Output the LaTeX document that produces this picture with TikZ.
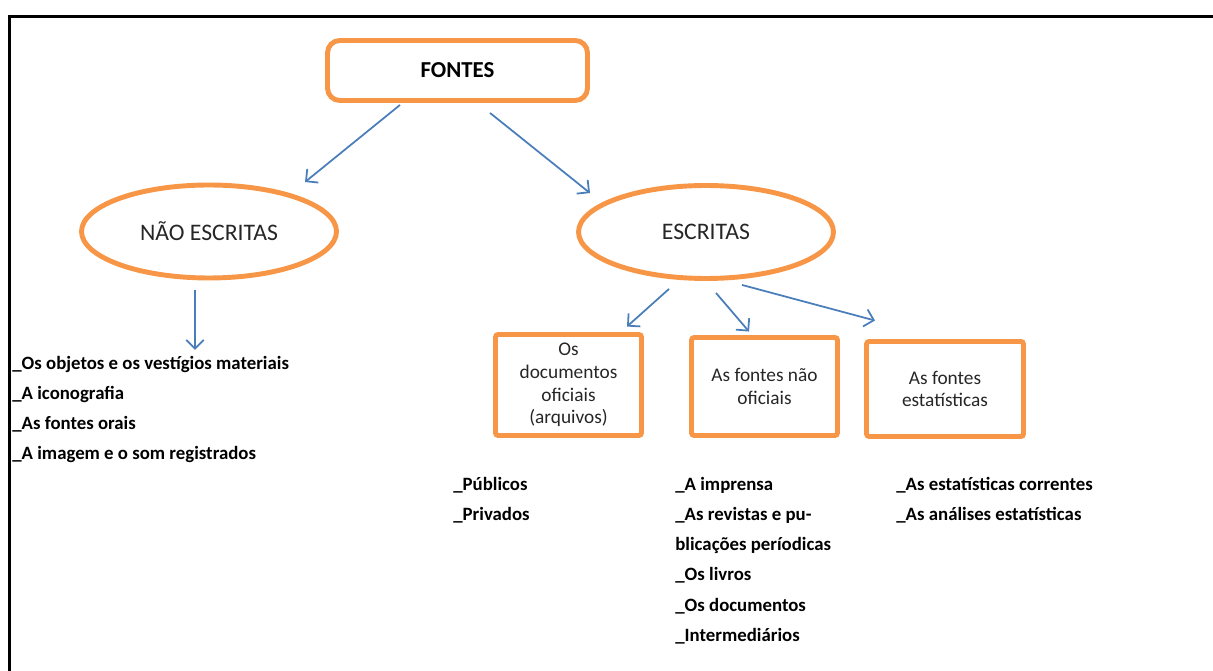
\documentclass[tikz,border=0pt]{standalone}
\usepackage{fontspec}
\setmainfont{Carlito}
\usetikzlibrary{shapes.geometric,arrows.meta,calc}
\definecolor{boxorange}{HTML}{F79646}
\definecolor{arrowblue}{HTML}{4A7EBB}
\tikzset{
  topbox/.style={draw=boxorange,line width=2.8pt,rounded corners=7pt,
    minimum width=5.2cm,minimum height=1.2cm,font=\fontsize{13}{15}\selectfont\bfseries},
  kind/.style={ellipse,draw=boxorange,line width=2.8pt,minimum width=5.1cm,
    minimum height=1.86cm,inner sep=0pt,font=\fontsize{13.5}{16}\selectfont,text=black!85},
  sortbox/.style={draw=boxorange,line width=2.8pt,rounded corners=1.5pt,align=center,
    inner sep=0pt,font=\fontsize{11}{13}\selectfont,text=black!85},
  item/.style={anchor=base west,inner sep=0pt,font=\fontsize{10.7}{13}\selectfont\bfseries},
  link/.style={draw=arrowblue,line width=1pt,-{Straight Barb[length=5pt,width=10pt]}}
}
\begin{document}
\begin{tikzpicture}[x=0.02cm,y=-0.02cm]
        \useasboundingbox (0,0) rectangle (1213,671);
        % frame
        \draw[line width=1.5pt] (1213,16.3) -- (9.3,16.3) -- (9.3,671);
        % main nodes
        \node[topbox] (fontes) at (457.5,70.5) {FONTES};
        \node[kind] (naoesc) at (209,231.5) {NÃO ESCRITAS};
        \node[kind] (escritas) at (706,232) {ESCRITAS};
        \node[sortbox,minimum width=2.92cm,minimum height=2.02cm] (oficiais) at (568.5,385)
          {Os\\documentos\\oficiais\\(arquivos)};
        \node[sortbox,minimum width=2.92cm,minimum height=1.96cm] (naooficiais) at (764.5,386.5)
          {As fontes não\\oficiais};
        \node[sortbox,minimum width=3.14cm,minimum height=1.9cm] (estat) at (945,389)
          {As fontes\\estatísticas};
        % arrows
        \draw[link] ($(fontes.south)+(-57.5,2)$) -- ($(naoesc.north)+(96,-0.5)$);
        \draw[link] ($(fontes.south)+(32.5,10)$) -- ($(escritas.north)+(-116,10)$);
        \draw[link] ($(naoesc.south)+(-14,9.5)$) -- ($(naoesc.south)+(-14,69.5)$);
        \draw[link] ($(escritas.south)+(-37,8)$) -- ($(oficiais.north)+(58.5,-5.5)$);
        \draw[link] ($(escritas.south)+(10,12)$) -- ($(naooficiais.north)+(-15.5,-3.5)$);
        \draw[link] ($(escritas.south)+(36,4)$) -- ($(estat.north)+(-70,-18.5)$);
        % lists
        \foreach \txt [count=\i] in {{\_Os objetos e os vestígios materiais},{\_A iconografia},
            {\_As fontes orais},{\_A imagem e o som registrados}}
          \node[item] (ne\i) at (12,340+30*\i) {\txt};
        \foreach \txt [count=\i] in {{\_Públicos},{\_Privados}}
          \node[item] (of\i) at (453,461+30*\i) {\txt};
        \foreach \txt [count=\i] in {{\_A imprensa},{\_As revistas e pu-},
            {blicações períodicas},{\_Os livros},{\_Os documentos},{\_Intermediários}}
          \node[item] (no\i) at (675,461+30*\i) {\txt};
        \foreach \txt [count=\i] in {{\_As estatísticas correntes},{\_As análises estatísticas}}
          \node[item] (es\i) at (896,461+30*\i) {\txt};
\end{tikzpicture}
\end{document}
